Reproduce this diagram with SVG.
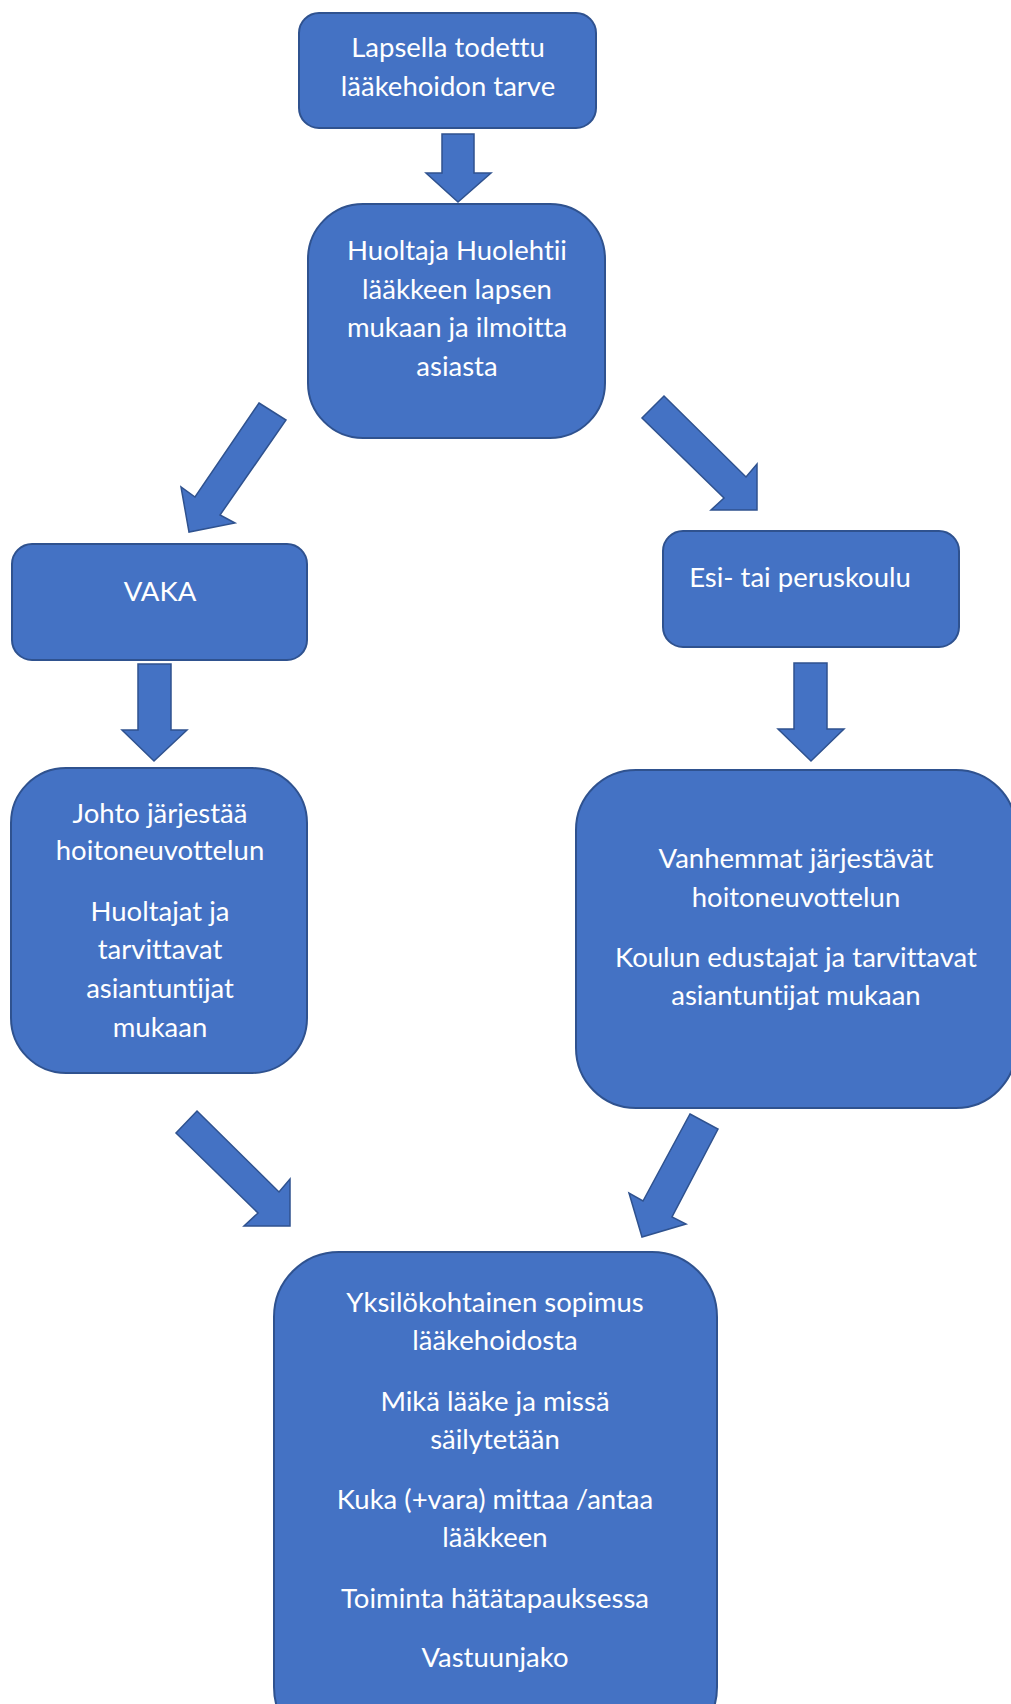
<svg xmlns="http://www.w3.org/2000/svg" width="1011" height="1704" viewBox="0 0 1011 1704">
<style>
.box{fill:#4472C4;stroke:#2F528F;stroke-width:2}
.arr{fill:#4472C4;stroke:#2F528F;stroke-width:1.5;stroke-linejoin:miter}
text{font-family:Lato,"Liberation Sans",sans-serif;font-size:27.5px;fill:#fff;text-anchor:middle;font-variant-ligatures:none;font-feature-settings:"liga" 0,"clig" 0,"dlig" 0}
</style>
<rect width="1011" height="1704" fill="#fff"/>
<g id="connectors">
<polygon class="arr" points="442,134 474,134 474,173 491,173 458,202 426,173 442,173"/>
<polygon class="arr" points="259,403 286,420 220,515 235,523 189,532 181,487 195,497"/>
<polygon class="arr" points="664,396 746,477 757,464 757,510 711,510 724,498 642,418"/>
<polygon class="arr" points="138,664 171,664 171,730 187,730 154,761 122,730 138,730"/>
<polygon class="arr" points="794,663 827,663 827,729 844,729 811,761 778,729 794,729"/>
<polygon class="arr" points="197,1111 279,1192 290,1179 290,1226 244,1226 258,1213 176,1133"/>
<polygon class="arr" points="690,1114 718,1129 672,1217 686,1224 642,1237 629,1193 643,1201"/>
</g>
<g id="n1">
<rect class="box" x="299" y="13" width="297" height="115" rx="20"/>
<text x="448" y="57">Lapsella todettu</text>
<text x="448" y="96">lääkehoidon tarve</text>
</g>
<g id="n2">
<rect class="box" x="308" y="204" width="297" height="234" rx="55"/>
<text x="457" y="260">Huoltaja Huolehtii</text>
<text x="457" y="299">lääkkeen lapsen</text>
<text x="457" y="337">mukaan ja ilmoitta</text>
<text x="457" y="376">asiasta</text>
</g>
<g id="n3">
<rect class="box" x="12" y="544" width="295" height="116" rx="20"/>
<text x="160" y="601">VAKA</text>
</g>
<g id="n4">
<rect class="box" x="663" y="531" width="296" height="116" rx="20"/>
<text x="800" y="587">Esi- tai peruskoulu</text>
</g>
<g id="n5">
<rect class="box" x="11" y="768" width="296" height="305" rx="55"/>
<text x="160" y="823">Johto järjestää</text>
<text x="160" y="860">hoitoneuvottelun</text>
<text x="160" y="921">Huoltajat ja</text>
<text x="160" y="959">tarvittavat</text>
<text x="160" y="998">asiantuntijat</text>
<text x="160" y="1037">mukaan</text>
</g>
<g id="n6">
<rect class="box" x="576" y="770" width="440" height="338" rx="60"/>
<text x="796" y="868">Vanhemmat järjestävät</text>
<text x="796" y="907">hoitoneuvottelun</text>
<text x="796" y="967">Koulun edustajat ja tarvittavat</text>
<text x="796" y="1005">asiantuntijat mukaan</text>
</g>
<g id="n7">
<rect class="box" x="274" y="1252" width="443" height="500" rx="65"/>
<text x="495" y="1312">Yksilökohtainen sopimus</text>
<text x="495" y="1350">lääkehoidosta</text>
<text x="495" y="1411">Mikä lääke ja missä</text>
<text x="495" y="1449">säilytetään</text>
<text x="495" y="1509">Kuka (+vara) mittaa /antaa</text>
<text x="495" y="1547">lääkkeen</text>
<text x="495" y="1608">Toiminta hätätapauksessa</text>
<text x="495" y="1667">Vastuunjako</text>
</g>
</svg>
